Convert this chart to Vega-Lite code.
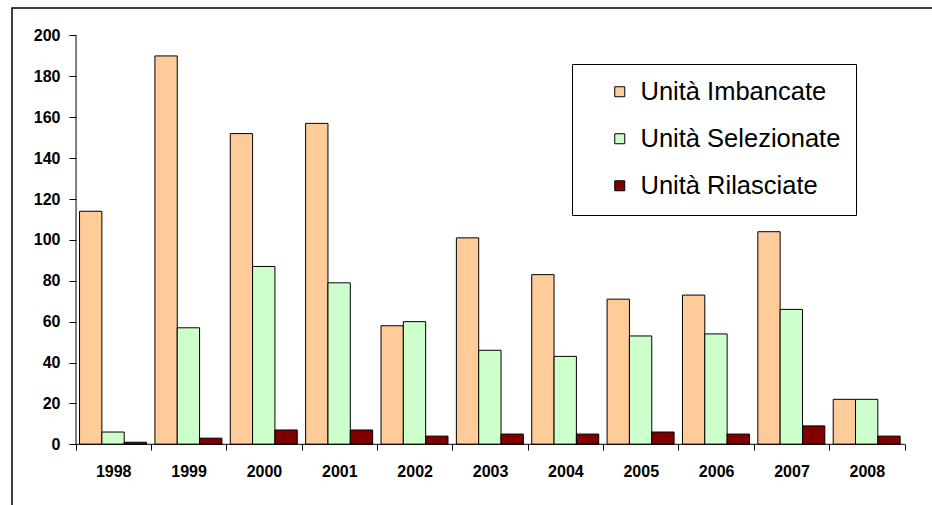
{
  "$schema": "https://vega.github.io/schema/vega-lite/v6.json",
  "width": 930,
  "height": 510,
  "autosize": {"type": "none"},
  "padding": {"left": 12, "top": 8, "right": 0, "bottom": 0},
  "background": "white",
  "config": {
    "view": {"stroke": "#000000", "strokeWidth": 1.5},
    "font": "Liberation Sans"
  },
  "data": {
    "values": [
      {"Anno": "1998", "Serie": "Unità Imbancate", "Valore": 114},
      {"Anno": "1998", "Serie": "Unità Selezionate", "Valore": 6},
      {"Anno": "1998", "Serie": "Unità Rilasciate", "Valore": 1},
      {"Anno": "1999", "Serie": "Unità Imbancate", "Valore": 190},
      {"Anno": "1999", "Serie": "Unità Selezionate", "Valore": 57},
      {"Anno": "1999", "Serie": "Unità Rilasciate", "Valore": 3},
      {"Anno": "2000", "Serie": "Unità Imbancate", "Valore": 152},
      {"Anno": "2000", "Serie": "Unità Selezionate", "Valore": 87},
      {"Anno": "2000", "Serie": "Unità Rilasciate", "Valore": 7},
      {"Anno": "2001", "Serie": "Unità Imbancate", "Valore": 157},
      {"Anno": "2001", "Serie": "Unità Selezionate", "Valore": 79},
      {"Anno": "2001", "Serie": "Unità Rilasciate", "Valore": 7},
      {"Anno": "2002", "Serie": "Unità Imbancate", "Valore": 58},
      {"Anno": "2002", "Serie": "Unità Selezionate", "Valore": 60},
      {"Anno": "2002", "Serie": "Unità Rilasciate", "Valore": 4},
      {"Anno": "2003", "Serie": "Unità Imbancate", "Valore": 101},
      {"Anno": "2003", "Serie": "Unità Selezionate", "Valore": 46},
      {"Anno": "2003", "Serie": "Unità Rilasciate", "Valore": 5},
      {"Anno": "2004", "Serie": "Unità Imbancate", "Valore": 83},
      {"Anno": "2004", "Serie": "Unità Selezionate", "Valore": 43},
      {"Anno": "2004", "Serie": "Unità Rilasciate", "Valore": 5},
      {"Anno": "2005", "Serie": "Unità Imbancate", "Valore": 71},
      {"Anno": "2005", "Serie": "Unità Selezionate", "Valore": 53},
      {"Anno": "2005", "Serie": "Unità Rilasciate", "Valore": 6},
      {"Anno": "2006", "Serie": "Unità Imbancate", "Valore": 73},
      {"Anno": "2006", "Serie": "Unità Selezionate", "Valore": 54},
      {"Anno": "2006", "Serie": "Unità Rilasciate", "Valore": 5},
      {"Anno": "2007", "Serie": "Unità Imbancate", "Valore": 104},
      {"Anno": "2007", "Serie": "Unità Selezionate", "Valore": 66},
      {"Anno": "2007", "Serie": "Unità Rilasciate", "Valore": 9},
      {"Anno": "2008", "Serie": "Unità Imbancate", "Valore": 22},
      {"Anno": "2008", "Serie": "Unità Selezionate", "Valore": 22},
      {"Anno": "2008", "Serie": "Unità Rilasciate", "Valore": 4}
    ]
  },
  "layer": [
    {
      "mark": {"type": "bar", "stroke": "#000000", "strokeWidth": 1},
      "encoding": {
        "x": {
          "field": "Anno",
          "type": "nominal",
          "scale": {"paddingInner": 0, "paddingOuter": 0.67, "align": 0.634},
          "axis": {
            "title": null,
            "domain": false,
            "grid": false,
            "bandPosition": 1,
            "tickExtra": true,
            "tickSize": 6,
            "tickColor": "#000000",
            "offset": -74,
            "labelAngle": 0,
            "labelFont": "Liberation Sans",
            "labelFontWeight": "bold",
            "labelFontSize": 16,
            "labelColor": "#000000",
            "labelPadding": 13
          }
        },
        "xOffset": {
          "field": "Serie",
          "type": "nominal",
          "sort": ["Unità Imbancate", "Unità Selezionate", "Unità Rilasciate"],
          "scale": {"paddingInner": 0, "paddingOuter": 0.1875, "align": 0.42}
        },
        "y": {
          "field": "Valore",
          "type": "quantitative",
          "scale": {"domain": [-36.06, 213.45], "nice": false, "zero": false},
          "axis": {
            "title": null,
            "values": [0, 20, 40, 60, 80, 100, 120, 140, 160, 180, 200],
            "domain": false,
            "grid": false,
            "offset": -64,
            "tickSize": 7,
            "tickColor": "#000000",
            "labelFont": "Liberation Sans",
            "labelFontWeight": "bold",
            "labelFontSize": 16,
            "labelColor": "#000000",
            "labelPadding": 9
          }
        },
        "y2": {"datum": 0},
        "color": {
          "field": "Serie",
          "type": "nominal",
          "sort": ["Unità Imbancate", "Unità Selezionate", "Unità Rilasciate"],
          "scale": {
            "domain": ["Unità Imbancate", "Unità Selezionate", "Unità Rilasciate"],
            "range": ["#FFCC99", "#CCFFCC", "#800000"]
          },
          "legend": {
            "orient": "none",
            "legendX": 560,
            "legendY": 56,
            "title": null,
            "fillColor": "#FFFFFF",
            "strokeColor": "#000000",
            "padding": 15,
            "symbolType": "square",
            "symbolSize": 100,
            "symbolStrokeColor": "#000000",
            "symbolStrokeWidth": 1,
            "symbolOffset": 20,
            "labelOffset": 8,
            "labelFont": "Liberation Sans",
            "labelFontSize": 25.5,
            "labelColor": "#000000",
            "labelLimit": 400,
            "rowPadding": 20
          }
        }
      }
    },
    {
      "data": {"values": [{}]},
      "mark": {"type": "rule", "color": "#000000", "strokeWidth": 1},
      "encoding": {
        "x": {"datum": "1998", "bandPosition": 0},
        "y": {"datum": 0},
        "y2": {"datum": 200}
      }
    },
    {
      "data": {"values": [{}]},
      "mark": {"type": "rule", "color": "#000000", "strokeWidth": 1},
      "encoding": {
        "x": {"datum": "1998", "bandPosition": 0},
        "x2": {"datum": "2008", "bandPosition": 1},
        "y": {"datum": 0}
      }
    }
  ]
}
